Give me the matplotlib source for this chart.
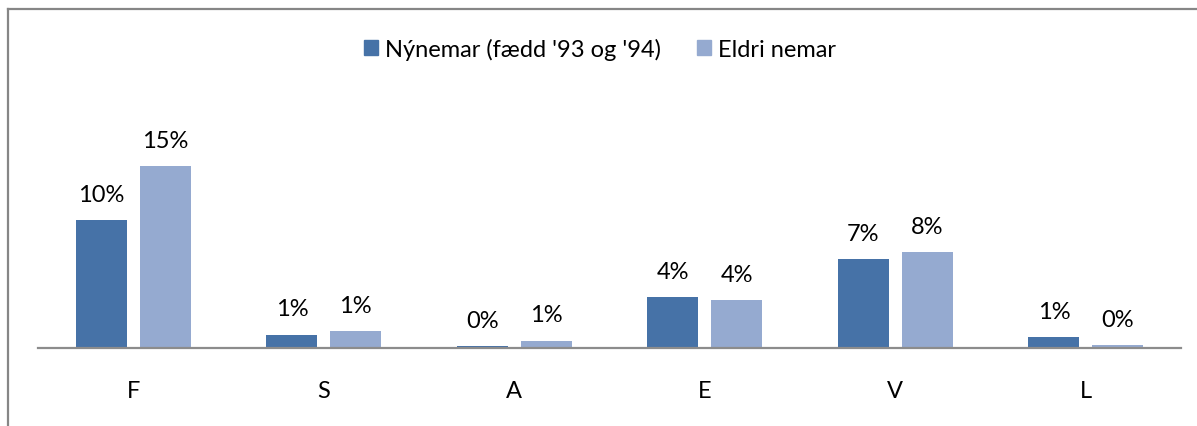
import matplotlib
matplotlib.use("Agg")
import matplotlib.pyplot as plt
from matplotlib.patches import Patch
from matplotlib.lines import Line2D
import numpy as np

# === DATA ===
categories = ["F", "S", "A", "E", "V", "L"]
nynemar = [10.36, 1.08, 0.16, 4.10, 7.18, 0.87]
eldri = [14.74, 1.35, 0.59, 3.89, 7.75, 0.24]
series_names = ["Nýnemar (fædd '93 og '94)", "Eldri nemar"]

colors = ["#4672A7", "#95AAD0"]
W, H = 1197, 427

plt.rcParams['font.family'] = ['Lato', 'DejaVu Sans']

fig = plt.figure(figsize=(W / 100, H / 100), dpi=100)
ax = fig.add_axes([38 / W, (H - 349) / H, (1181 - 38) / W, (349 - 90) / H])

x = np.arange(len(categories))
width = 0.268
off = 0.167

b1 = ax.bar(x - off, nynemar, width, color=colors[0])
b2 = ax.bar(x + off, eldri, width, color=colors[1])

for bars, vals in [(b1, nynemar), (b2, eldri)]:
    for bar, v in zip(bars, vals):
        ax.annotate(f"{v:.0f}%", (bar.get_x() + bar.get_width() / 2, v),
                    xytext=(0, 11), textcoords='offset points',
                    ha='center', va='bottom', fontsize=17, color='black')

ax.set_xlim(-0.5, len(categories) - 0.5)
ax.set_ylim(0, (349 - 90) / 12.35)
ax.set_xticks(x)
ax.set_xticklabels(categories, fontsize=17)
ax.tick_params(axis='x', length=0, pad=23)
ax.set_yticks([])
for s in ['top', 'right', 'left']:
    ax.spines[s].set_visible(False)
ax.spines['bottom'].set_color('#8c8c8c')
ax.spines['bottom'].set_linewidth(1.6)

# === CHART BORDER ===
fig.add_artist(Line2D([8 / W, 1.0], [1 - 9.5 / H] * 2, color='#868686', lw=1.6))
fig.add_artist(Line2D([8 / W] * 2, [0, 1 - 9.5 / H], color='#868686', lw=1.6))

# === LEGEND ===
handles = [Patch(color=c) for c in colors]
fig.legend(handles, series_names, loc='center', bbox_to_anchor=(600 / W, 1 - 50 / H),
           ncol=2, frameon=False, fontsize=17, handlelength=0.6, handleheight=0.6,
           handletextpad=0.3, columnspacing=1.5)

fig.savefig("out.png", dpi=100)
